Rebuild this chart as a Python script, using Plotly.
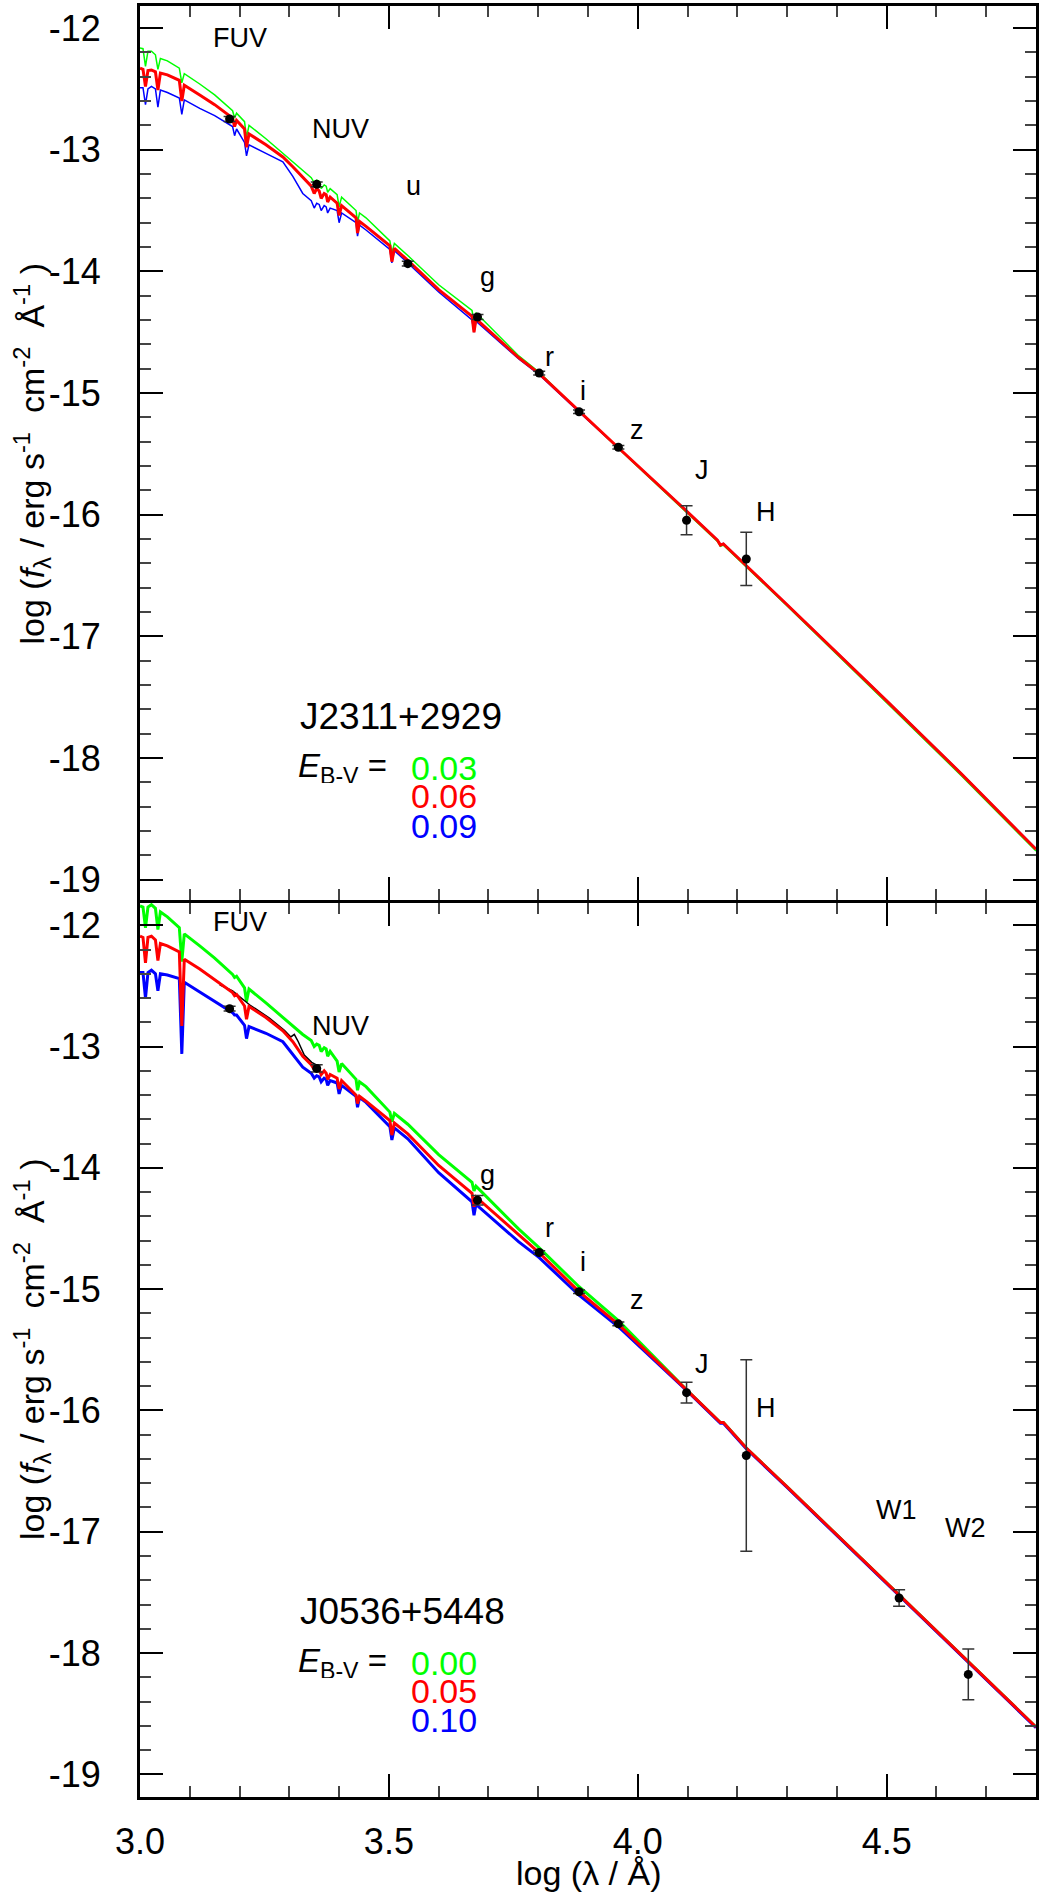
import plotly.graph_objects as go

FONT = "Liberation Sans, Arial, Helvetica, sans-serif"

# ---------------- model spectra (log lambda grid shared by all models) ----------------
X_MODEL = [3.000, 3.006, 3.011, 3.016, 3.023, 3.031, 3.036, 3.041, 3.055, 3.079,
           3.084, 3.089, 3.120, 3.150, 3.186, 3.190, 3.194, 3.210, 3.214, 3.219,
           3.253, 3.287, 3.307, 3.327, 3.344, 3.350, 3.355, 3.360, 3.364, 3.370,
           3.374, 3.377, 3.382, 3.396, 3.400, 3.405, 3.434, 3.437, 3.441, 3.454,
           3.502, 3.506, 3.511, 3.538, 3.600, 3.667, 3.671, 3.675, 3.761, 3.802,
           3.882, 3.961, 4.098, 4.160, 4.166, 4.172, 4.218, 4.300, 4.500, 4.650,
           4.800]

# J2311+2929 : E(B-V) = 0.03 (green), 0.06 (red), 0.09 (blue)
TOP_GREEN = [-12.165, -12.17, -12.315, -12.19, -12.19, -12.22, -12.34, -12.25, -12.27, -12.33,
             -12.45, -12.375, -12.46, -12.55, -12.68, -12.74, -12.70, -12.77, -12.90, -12.80,
             -12.91, -13.03, -13.10, -13.17, -13.23, -13.27, -13.25, -13.26, -13.32, -13.29,
             -13.30, -13.35, -13.32, -13.37, -13.47, -13.39, -13.50, -13.60, -13.52, -13.56,
             -13.75, -13.85, -13.77, -13.87, -14.11, -14.32, -14.42, -14.34, -14.695, -14.83,
             -15.15, -15.455, -15.98, -16.22, -16.26, -16.25, -16.43, -16.75, -17.545, -18.145,
             -18.765]
TOP_RED = [-12.33, -12.34, -12.48, -12.35, -12.345, -12.36, -12.51, -12.37, -12.385, -12.43,
           -12.60, -12.47, -12.55, -12.63, -12.74, -12.81, -12.76, -12.83, -12.98, -12.87,
           -12.96, -13.06, -13.14, -13.23, -13.30, -13.36, -13.32, -13.34, -13.40, -13.36,
           -13.37, -13.43, -13.39, -13.44, -13.54, -13.46, -13.56, -13.685, -13.59, -13.63,
           -13.79, -13.92, -13.81, -13.91, -14.15, -14.37, -14.50, -14.39, -14.71, -14.84,
           -15.15, -15.45, -15.97, -16.21, -16.25, -16.24, -16.42, -16.74, -17.53, -18.13,
           -18.75]
TOP_BLUE = [-12.49, -12.49, -12.63, -12.50, -12.48, -12.50, -12.65, -12.51, -12.53, -12.575,
            -12.71, -12.59, -12.66, -12.72, -12.81, -12.885, -12.83, -12.94, -13.05, -12.96,
            -13.03, -13.10, -13.22, -13.36, -13.42, -13.48, -13.44, -13.45, -13.50, -13.46,
            -13.47, -13.52, -13.48, -13.50, -13.60, -13.52, -13.60, -13.71, -13.62, -13.66,
            -13.82, -13.93, -13.83, -13.93, -14.17, -14.40, -14.50, -14.41, -14.72, -14.85,
            -15.155, -15.45, -15.965, -16.205, -16.245, -16.235, -16.415, -16.735, -17.525, -18.125,
            -18.745]

# J0536+5448 : E(B-V) = 0.00 (green), 0.05 (red), 0.10 (blue)
BOT_GREEN = [-11.84, -11.85, -12.02, -11.85, -11.83, -11.86, -12.035, -11.89, -11.93, -12.02,
             -12.30, -12.07, -12.17, -12.27, -12.405, -12.43, -12.42, -12.515, -12.63, -12.525,
             -12.64, -12.76, -12.83, -12.90, -12.95, -13.00, -12.98, -12.99, -13.04, -13.01,
             -13.02, -13.08, -13.04, -13.12, -13.21, -13.14, -13.27, -13.36, -13.29, -13.33,
             -13.54, -13.62, -13.55, -13.64, -13.89, -14.12, -14.19, -14.15, -14.505, -14.66,
             -14.98, -15.26, -15.83, -16.07, -16.10, -16.10, -16.31, -16.63, -17.42, -18.02,
             -18.61]
BOT_RED = [-12.09, -12.10, -12.31, -12.10, -12.09, -12.12, -12.29, -12.15, -12.17, -12.22,
           -12.83, -12.28, -12.36, -12.45, -12.555, -12.58, -12.57, -12.665, -12.775, -12.67,
           -12.76, -12.87, -12.96, -13.08, -13.15, -13.19, -13.17, -13.19, -13.23, -13.20,
           -13.22, -13.27, -13.23, -13.26, -13.35, -13.28, -13.40, -13.47, -13.41, -13.45,
           -13.61, -13.73, -13.63, -13.72, -13.98, -14.21, -14.32, -14.24, -14.555, -14.70,
           -15.02, -15.29, -15.83, -16.07, -16.10, -16.10, -16.31, -16.63, -17.42, -18.02,
           -18.61]
BOT_BLUE = [-12.39, -12.39, -12.60, -12.39, -12.37, -12.40, -12.54, -12.40, -12.41, -12.44,
            -13.06, -12.47, -12.55, -12.63, -12.72, -12.74, -12.74, -12.824, -12.934, -12.835,
            -12.89, -12.96, -13.07, -13.17, -13.22, -13.26, -13.24, -13.25, -13.29, -13.26,
            -13.27, -13.32, -13.28, -13.30, -13.39, -13.32, -13.41, -13.50, -13.42, -13.46,
            -13.66, -13.77, -13.67, -13.76, -14.04, -14.28, -14.39, -14.30, -14.61, -14.74,
            -15.05, -15.31, -15.835, -16.075, -16.105, -16.105, -16.315, -16.635, -17.425, -18.025,
            -18.615]

# observed UV spectrum segment (J0536+5448)
OBS_X = [3.160, 3.186, 3.220, 3.260, 3.290, 3.303, 3.310, 3.318, 3.330, 3.345, 3.358]
OBS_Y = [-12.49, -12.54, -12.655, -12.765, -12.865, -12.92, -12.90, -12.96, -13.07, -13.13, -13.16]

# ---------------- photometry ----------------
TOP_BANDS = ["FUV", "NUV", "u", "g", "r", "i", "z", "J", "H"]
TOP_PHOT_X = [3.180, 3.355, 3.538, 3.678, 3.802, 3.882, 3.961, 4.098, 4.218]
TOP_PHOT_Y = [-12.748, -13.285, -13.937, -14.375, -14.836, -15.154, -15.446, -16.046, -16.364]
TOP_PHOT_ERR = [0.02, 0.02, 0.02, 0.02, 0.015, 0.015, 0.015, 0.119, 0.219]
TOP_LABEL_X = [3.200, 3.402, 3.549, 3.699, 3.823, 3.890, 3.998, 4.130, 4.257]
TOP_LABEL_Y = [-12.08, -12.83, -13.30, -14.05, -14.70, -14.98, -15.30, -15.63, -15.98]

BOT_BANDS = ["FUV", "NUV", "g", "r", "i", "z", "J", "H", "W1", "W2"]
BOT_PHOT_X = [3.180, 3.355, 3.678, 3.802, 3.882, 3.961, 4.098, 4.218, 4.525, 4.664]
BOT_PHOT_Y = [-12.687, -13.18, -14.267, -14.698, -15.021, -15.286, -15.853, -16.371, -17.546, -18.176]
BOT_PHOT_ERR = [0.02, 0.03, 0.04, 0.015, 0.015, 0.015, 0.085, 0.79, 0.068, 0.21]
BOT_LABEL_X = [3.200, 3.402, 3.699, 3.823, 3.890, 3.998, 4.130, 4.257, 4.519, 4.659]
BOT_LABEL_Y = [-11.975, -12.83, -14.06, -14.495, -14.78, -15.09, -15.62, -15.98, -16.82, -16.97]

STAR_TOP = "J2311+2929"
STAR_BOT = "J0536+5448"
EBV_TOP = ["0.03", "0.06", "0.09"]
EBV_BOT = ["0.00", "0.05", "0.10"]
EBV_COLORS = ["#00ff00", "#ff0000", "#0000ff"]

Y_TICKS = [-19, -18, -17, -16, -15, -14, -13, -12]
Y_TICK_TEXT = ["-19", "-18", "-17", "-16", "-15", "-14", "-13", "-12"]
X_TICKS = [3.0, 3.5, 4.0, 4.5]
X_TICK_TEXT = ["3.0", "3.5", "4.0", "4.5"]

fig = go.Figure()

# ---- top panel (xaxis2 / yaxis2)
for yv, col, w in [(TOP_GREEN, EBV_COLORS[0], 1.5), (TOP_BLUE, EBV_COLORS[2], 1.5), (TOP_RED, EBV_COLORS[1], 3)]:
    fig.add_trace(go.Scatter(x=X_MODEL, y=yv, mode="lines", line=dict(color=col, width=w),
                             xaxis="x2", yaxis="y2", showlegend=False, hoverinfo="skip"))
fig.add_trace(go.Scatter(x=TOP_PHOT_X, y=TOP_PHOT_Y, mode="markers",
                         marker=dict(color="black", size=9),
                         error_y=dict(type="data", array=TOP_PHOT_ERR, color="#333333", thickness=1.5, width=6),
                         xaxis="x2", yaxis="y2", showlegend=False))

# ---- bottom panel (xaxis / yaxis)
for yv, col in [(BOT_GREEN, EBV_COLORS[0]), (BOT_BLUE, EBV_COLORS[2])]:
    fig.add_trace(go.Scatter(x=X_MODEL, y=yv, mode="lines", line=dict(color=col, width=3),
                             xaxis="x", yaxis="y", showlegend=False, hoverinfo="skip"))
fig.add_trace(go.Scatter(x=OBS_X, y=OBS_Y, mode="lines", line=dict(color="black", width=1.5),
                         xaxis="x", yaxis="y", showlegend=False, hoverinfo="skip"))
fig.add_trace(go.Scatter(x=X_MODEL, y=BOT_RED, mode="lines", line=dict(color=EBV_COLORS[1], width=3),
                         xaxis="x", yaxis="y", showlegend=False, hoverinfo="skip"))
fig.add_trace(go.Scatter(x=BOT_PHOT_X, y=BOT_PHOT_Y, mode="markers",
                         marker=dict(color="black", size=9),
                         error_y=dict(type="data", array=BOT_PHOT_ERR, color="#333333", thickness=1.5, width=6),
                         xaxis="x", yaxis="y", showlegend=False))

ann = []
def label(x, y, text, xref, yref, size=27, color="black", xanchor="center", height=None):
    a = dict(x=x, y=y, xref=xref, yref=yref, text=text, showarrow=False,
             xanchor=xanchor, yanchor="middle",
             font=dict(family=FONT, size=size, color=color))
    if height is not None:
        a["height"] = height
    ann.append(a)

for b, x, y in zip(TOP_BANDS, TOP_LABEL_X, TOP_LABEL_Y):
    label(x, y, b, "x2", "y2")
for b, x, y in zip(BOT_BANDS, BOT_LABEL_X, BOT_LABEL_Y):
    label(x, y, b, "x", "y")

for star, vals, xr, yr in [(STAR_TOP, EBV_TOP, "x2", "y2"), (STAR_BOT, EBV_BOT, "x", "y")]:
    label(3.318, -17.655, star, xr, yr, size=37, xanchor="left")
    label(3.5006, -18.08, "<i>E</i><sub>B-V</sub> =", xr, yr, size=33, xanchor="right", height=30)
    for v, c, yy in zip(vals, EBV_COLORS, [-18.08, -18.315, -18.556]):
        label(3.541, yy, v, xr, yr, size=34, color=c, xanchor="left", height=28)

ytitle = "log (<i>f</i><sub>λ</sub> / erg s<sup>-1</sup>\u00a0 cm<sup>-2</sup>\u00a0 Å<sup>-1</sup>\u00a0)"
for yc in [0.75, 0.25]:
    ann.append(dict(x=-0.1208, y=yc, xref="paper", yref="paper", text=ytitle, showarrow=False,
                    textangle=-90, xanchor="center", yanchor="middle",
                    font=dict(family=FONT, size=34, color="black")))
ann.append(dict(x=0.5, y=-0.0424, xref="paper", yref="paper", text="log (λ / Å)", showarrow=False,
                xanchor="center", yanchor="middle", font=dict(family=FONT, size=34, color="black")))

def xax(show_labels, anchor):
    return dict(range=[3.0, 4.8], tickvals=X_TICKS, ticktext=X_TICK_TEXT, showticklabels=show_labels,
                ticks="inside", ticklen=23, tickwidth=1.5, tickcolor="black",
                minor=dict(dtick=0.1, ticks="inside", ticklen=11, tickwidth=1.5, tickcolor="#444444", showgrid=False),
                showline=True, linewidth=3, linecolor="black", mirror="allticks",
                showgrid=False, zeroline=False, anchor=anchor, ticklabelstandoff=11,
                tickfont=dict(family=FONT, size=36, color="black"))

def yax(rng, domain, anchor):
    return dict(range=rng, domain=domain, anchor=anchor, tickvals=Y_TICKS, ticktext=Y_TICK_TEXT,
                ticks="inside", ticklen=23, tickwidth=1.5, tickcolor="black",
                minor=dict(dtick=0.2, ticks="inside", ticklen=11, tickwidth=1.5, tickcolor="#444444", showgrid=False),
                showline=True, linewidth=3, linecolor="black", mirror="allticks",
                showgrid=False, zeroline=False, ticklabelstandoff=29,
                tickfont=dict(family=FONT, size=36, color="black"))

PLOT_H = 1896 - 3 - 99
GAP = 1.5 / PLOT_H

fig.update_layout(
    width=1042, height=1896,
    margin=dict(l=140, r=4, t=3, b=99),
    paper_bgcolor="white", plot_bgcolor="white",
    showlegend=False,
    xaxis=xax(True, "y"),
    yaxis=yax([-19.187, -11.816], [0.0, 0.5 - GAP], "x"),
    xaxis2=xax(False, "y2"),
    yaxis2=yax([-19.167, -11.819], [0.5 + GAP, 1.0], "x2"),
    annotations=ann,
)

fig.write_html("out.html",
               config={"displayModeBar": False},
               post_script="document.body.style.margin='0px';document.body.style.overflow='hidden';")
